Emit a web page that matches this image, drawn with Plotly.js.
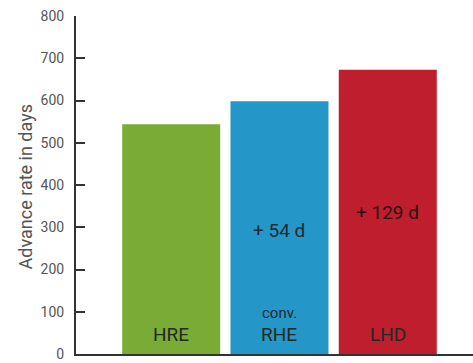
<!DOCTYPE html>
<html>
<head>
<meta charset="utf-8">
<script src="https://cdn.plot.ly/plotly-3.0.1.min.js"></script>
<style>html,body{margin:0;padding:0;background:#fff;}#chart{width:473px;height:363px;}</style>
</head>
<body>
<div id="chart"></div>
<script>
const categories = ["HRE", "RHE", "LHD"];
const advanceDays = [544, 598, 673];
const barColors = ["#7aab36", "#2596c8", "#be1e2d"];
const gainLabels = ["", "+ 54 d", "+ 129 d"];
const subLabels = ["", "conv.", ""];
const yTicks = [0, 100, 200, 300, 400, 500, 600, 700, 800];
const yTitle = "Advance rate in days";

const trace = {
  type: "bar",
  x: categories,
  y: advanceDays,
  marker: {color: barColors, line: {width: 0}},
  width: 0.905,
  hoverinfo: "none"
};

const annotations = [];
categories.forEach((c, i) => {
  annotations.push({x: c, y: 47, xref: "x", yref: "y", text: c, showarrow: false,
    font: {family: "Roboto", size: 19, color: "#1e2a22"}, yanchor: "middle"});
  if (subLabels[i]) annotations.push({x: c, y: 97, xref: "x", yref: "y", text: subLabels[i], showarrow: false,
    font: {family: "Roboto", size: 15, color: "#1e2a33"}, yanchor: "middle"});
});
annotations.push({x: categories[1], y: 293, xref: "x", yref: "y", text: gainLabels[1], showarrow: false,
  font: {family: "Roboto", size: 19, color: "#1e2a33"}, yanchor: "middle"});
annotations.push({x: categories[2], y: 334, xref: "x", yref: "y", text: gainLabels[2], showarrow: false,
  font: {family: "Roboto", size: 19, color: "#2a1010"}, yanchor: "middle"});
annotations.push({x: -(76 - 25) / 397, y: (354 - 187.5) / 338, xref: "paper", yref: "paper",
  text: yTitle, textangle: -90, showarrow: false, xanchor: "center", yanchor: "middle",
  font: {family: "Roboto", size: 18, color: "#555"}});

const layout = {
  width: 473, height: 363,
  margin: {l: 76, r: 0, t: 16, b: 9, pad: 0},
  paper_bgcolor: "#fff", plot_bgcolor: "#fff",
  showlegend: false,
  xaxis: {type: "category", range: [-0.879, 2.787], showticklabels: false, showgrid: false,
    zeroline: false, showline: true, linecolor: "#333", linewidth: 2, ticks: "", fixedrange: true},
  yaxis: {range: [0, 800], tickvals: yTicks, ticktext: yTicks.map(String), showgrid: false, zeroline: false,
    showline: true, linecolor: "#333", linewidth: 2, ticks: "inside", ticklen: 9, tickwidth: 2, tickcolor: "#333",
    tickfont: {family: "Roboto", size: 14, color: "#555"}, ticklabelstandoff: 7},
  annotations: annotations
};

Plotly.newPlot("chart", [trace], layout, {staticPlot: true, displayModeBar: false});
</script>
</body>
</html>
